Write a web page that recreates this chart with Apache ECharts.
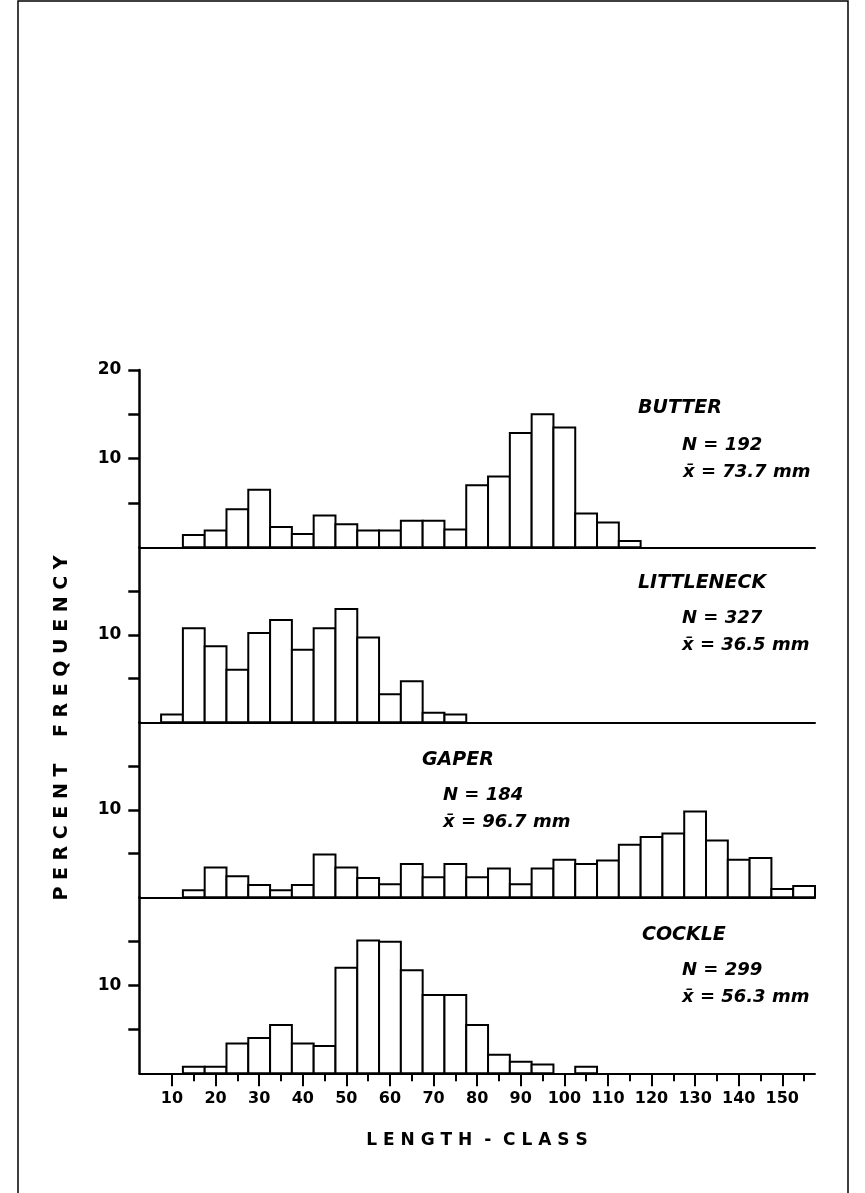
<!DOCTYPE html>
<html>
<head>
<meta charset="utf-8">
<script src="https://cdn.jsdelivr.net/npm/echarts@6/dist/echarts.min.js"></script>
<style>
html,body{margin:0;padding:0;background:#fff;}
#chart{width:865px;height:1193px;}
</style>
</head>
<body>
<div id="chart"></div>
<script>
// Length classes (mm), bin centres, bin width 5 mm
const lengthClasses = [10,15,20,25,30,35,40,45,50,55,60,65,70,75,80,85,90,95,100,105,110,115,120,125,130,135,140,145,150,155];
// Percent frequency per species
const butterValues     = [0,1.4,1.9,4.3,6.5,2.3,1.5,3.6,2.6,1.9,1.9,3.0,3.0,2.0,7.0,8.0,12.9,15.0,13.5,3.8,2.8,0.7,0,0,0,0,0,0,0,0];
const littleneckValues = [0.9,10.75,8.7,6.0,10.2,11.7,8.3,10.75,12.95,9.7,3.2,4.7,1.1,0.9,0,0,0,0,0,0,0,0,0,0,0,0,0,0,0,0];
const gaperValues      = [0,0.8,3.4,2.4,1.4,0.8,1.4,4.9,3.4,2.2,1.5,3.8,2.3,3.8,2.3,3.3,1.5,3.3,4.3,3.8,4.2,6.0,6.9,7.3,9.8,6.5,4.3,4.5,0.95,1.3];
const cockleValues     = [0,0.75,0.75,3.4,4.0,5.5,3.4,3.1,12.0,15.1,14.95,11.7,8.9,8.9,5.5,2.1,1.3,1.0,0,0.75,0,0,0,0,0,0,0,0,0,0];
// Axis ticks / labels
const xLabelValues = [10,20,30,40,50,60,70,80,90,100,110,120,130,140,150];
const xMinorTicks  = [15,25,35,45,55,65,75,85,95,105,115,125,135,145,155];
const yTicksTop    = [5,10,15,20];
const yTicksOther  = [5,10,15];
const yLabelsTop   = [10,20];
const yLabelsOther = [10];
// Species annotations
const species = [
  {name:'BUTTER',     n:'N = 192', mean:'x\u0304 = 73.7 mm'},
  {name:'LITTLENECK', n:'N = 327', mean:'x\u0304 = 36.5 mm'},
  {name:'GAPER',      n:'N = 184', mean:'x\u0304 = 96.7 mm'},
  {name:'COCKLE',     n:'N = 299', mean:'x\u0304 = 56.3 mm'}
];
const seriesValues = [butterValues, littleneckValues, gaperValues, cockleValues];

const FONT = '"DejaVu Sans", sans-serif';
const gridTops = [370, 547.3, 722.3, 897.3];
const gridHeights = [177.3, 175, 175, 176];
const labelPos = [
  {x:638, y:408, nx:682, ny:445, mx:683, my:472},
  {x:638, y:583, nx:682, ny:618, mx:682, my:645},
  {x:422, y:760, nx:443, ny:795, mx:443, my:822},
  {x:642, y:935, nx:682, ny:970, mx:682, my:997}
];

const grids = gridTops.map((t,i)=>({left:139.3, right:50, top:t, height:gridHeights[i]}));

const xAxes = [];
const yAxes = [];
for (let i=0;i<4;i++){
  const bottom = i===3;
  xAxes.push({
    type:'value', gridIndex:i, min:2.5, max:157.5, position:'bottom',
    axisLine:{show:true, onZero:false, lineStyle:{color:'#000', width:2}},
    axisTick:{show:bottom, customValues:xLabelValues, length:13, lineStyle:{color:'#000', width:2}},
    axisLabel:{show:bottom, customValues:xLabelValues, margin:18, color:'#000',
      fontFamily:FONT, fontSize:16, fontWeight:'bold'},
    splitLine:{show:false}
  });
  yAxes.push({
    type:'value', gridIndex:i, min:0, max:20,
    axisLine:{show:true, lineStyle:{color:'#000', width:2.5}},
    axisTick:{show:true, customValues: i===0 ? yTicksTop : yTicksOther, length:11, lineStyle:{color:'#000', width:2.5}},
    axisLabel:{show:true, customValues: i===0 ? yLabelsTop : yLabelsOther, margin:18, color:'#000',
      fontFamily:FONT, fontSize:17, fontWeight:'bold'},
    splitLine:{show:false}
  });
}
// secondary bottom axis for short ticks
xAxes.push({
  type:'value', gridIndex:3, min:2.5, max:157.5, position:'bottom',
  axisLine:{show:false},
  axisTick:{show:true, customValues:xMinorTicks, length:8, lineStyle:{color:'#000', width:2}},
  axisLabel:{show:false},
  splitLine:{show:false}
});

function renderBar(params, api){
  const c = api.value(0), v = api.value(1);
  if (!v) return null;
  const p0 = api.coord([c-2.5, v]);
  const p1 = api.coord([c+2.5, 0]);
  return {
    type:'rect',
    shape:{x:p0[0], y:p0[1], width:p1[0]-p0[0], height:p1[1]-p0[1]},
    style:{fill:'#fff', stroke:'#000', lineWidth:2}
  };
}

const series = seriesValues.map((vals,i)=>({
  type:'custom', xAxisIndex:i, yAxisIndex:i, clip:false,
  renderItem:renderBar,
  encode:{x:0, y:1},
  data: lengthClasses.map((c,k)=>[c, vals[k]]),
  z:1
}));

const graphic = [
  {type:'rect', shape:{x:18, y:1, width:830, height:1205}, style:{fill:null, stroke:'#000', lineWidth:1.5}, silent:true},
  {type:'text', x:62, y:728, rotation:Math.PI/2,
    style:{text:'P E R C E N T    F R E Q U E N C Y', font:'bold 19px '+FONT, fill:'#000', align:'center', verticalAlign:'middle'}},
  {type:'text', x:477, y:1141,
    style:{text:'L E N G T H  -  C L A S S', font:'bold 17px '+FONT, fill:'#000', align:'center', verticalAlign:'middle'}}
];
species.forEach((s,i)=>{
  const p = labelPos[i];
  graphic.push({type:'text', x:p.x, y:p.y, style:{text:s.name, font:'italic bold 19px '+FONT, fill:'#000', verticalAlign:'middle'}});
  graphic.push({type:'text', x:p.nx, y:p.ny, style:{text:s.n, font:'italic bold 18px '+FONT, fill:'#000', verticalAlign:'middle'}});
  graphic.push({type:'text', x:p.mx, y:p.my, style:{text:s.mean, font:'italic bold 18px '+FONT, fill:'#000', verticalAlign:'middle'}});
});

const chart = echarts.init(document.getElementById('chart'), null, {renderer:'canvas'});
chart.setOption({
  backgroundColor:'#fff',
  animation:false,
  grid:grids,
  xAxis:xAxes,
  yAxis:yAxes,
  series:series,
  graphic:graphic
});
</script>
</body>
</html>
